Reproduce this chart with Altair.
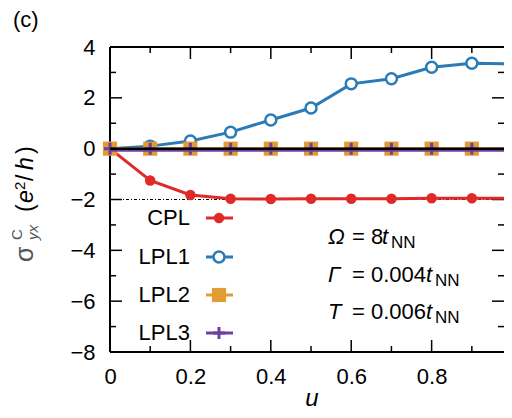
import altair as alt
import pandas as pd

FONT = "Liberation Sans"

u = [0.0, 0.1, 0.2, 0.3, 0.4, 0.5, 0.6, 0.7, 0.8, 0.9, 1.0]
cpl = [0.0, -1.25, -1.82, -1.97, -1.98, -1.97, -1.97, -1.97, -1.95, -1.95, -1.95]
lpl1 = [0.0, 0.1, 0.3, 0.65, 1.13, 1.6, 2.55, 2.75, 3.2, 3.36, 3.34]
lpl2 = [0.0, 0.0, 0.0, 0.0, 0.0, 0.0, 0.0, 0.0, 0.0, 0.0, 0.0]
lpl3 = [0.0, 0.0, 0.0, 0.0, 0.0, 0.0, 0.0, 0.0, 0.0, 0.0, 0.0]

names = ["CPL", "LPL1", "LPL2", "LPL3"]
colors = ["#e02a2a", "#2a7bb6", "#e39b33", "#6e3f9e"]

x_major = [0.0, 0.2, 0.4, 0.6, 0.8]
x_minor = [0.1, 0.3, 0.5, 0.7, 0.9]
y_major = [-8, -6, -4, -2, 0, 2, 4]
y_minor = [-7, -5, -3, -1, 1, 3]

W, H = 394, 305
xs = alt.Scale(domain=[0, 0.98], nice=False, zero=False)
ys = alt.Scale(domain=[-8, 4], nice=False, zero=False)

XAX = alt.Axis(values=x_major, format=".1~f", ticks=False, domain=False, grid=False,
               labelFontSize=22, labelFont=FONT, labelColor="black", labelPadding=14,
               labelFlush=False, title=None)
YAX = alt.Axis(values=y_major, format="d", ticks=False, domain=False, grid=False,
               labelFontSize=22, labelFont=FONT, labelColor="black", labelPadding=15,
               labelFlush=False, title=None)

one = pd.DataFrame({"a": [0]})
PLUS = "M-1,0L1,0M0,-1L0,1"


def X():
    return alt.X("u:Q", scale=xs, axis=XAX)


def Y():
    return alt.Y("v:Q", scale=ys, axis=YAX)


def series_df(vals):
    return pd.DataFrame({"u": u, "v": vals})


layers = []

# base layer carrying both axes
layers.append(alt.Chart(series_df(lpl2)).mark_point(opacity=0).encode(x=X(), y=Y()))

# frame (left, top, bottom)
layers.append(alt.Chart(one).mark_rule(color="black", strokeWidth=2).encode(
    x=alt.value(0), y=alt.value(0), y2=alt.value(H)))
layers.append(alt.Chart(one).mark_rule(color="black", strokeWidth=2).encode(
    x=alt.value(0), x2=alt.value(W), y=alt.value(0)))
layers.append(alt.Chart(one).mark_rule(color="black", strokeWidth=2).encode(
    x=alt.value(0), x2=alt.value(W), y=alt.value(H)))

# ticks
xmaj = pd.DataFrame({"u": x_major})
xmin = pd.DataFrame({"u": x_minor})
ymaj = pd.DataFrame({"v": y_major})
ymin = pd.DataFrame({"v": y_minor})
TK = dict(color="black", strokeWidth=1.5)
layers.append(alt.Chart(xmaj).mark_rule(**TK).encode(x=X(), y=alt.value(H), y2=alt.value(H - 12)))
layers.append(alt.Chart(xmin).mark_rule(**TK).encode(x=X(), y=alt.value(H), y2=alt.value(H - 6)))
layers.append(alt.Chart(xmaj).mark_rule(**TK).encode(x=X(), y=alt.value(0), y2=alt.value(12)))
layers.append(alt.Chart(xmin).mark_rule(**TK).encode(x=X(), y=alt.value(0), y2=alt.value(6)))
layers.append(alt.Chart(ymaj).mark_rule(**TK).encode(y=Y(), x=alt.value(0), x2=alt.value(12)))
layers.append(alt.Chart(ymin).mark_rule(**TK).encode(y=Y(), x=alt.value(0), x2=alt.value(6)))
layers.append(alt.Chart(ymaj).mark_rule(**TK).encode(y=Y(), x=alt.value(W), x2=alt.value(W - 12)))
layers.append(alt.Chart(ymin).mark_rule(**TK).encode(y=Y(), x=alt.value(W), x2=alt.value(W - 6)))

# dashed reference line at -2
layers.append(alt.Chart(pd.DataFrame({"v": [-2]})).mark_rule(
    color="black", strokeWidth=1, strokeDash=[3, 2, 1, 2]).encode(
    y=Y(), x=alt.value(0), x2=alt.value(W)))

# series
cp = series_df(cpl)
layers.append(alt.Chart(cp).mark_line(color=colors[0], strokeWidth=3).encode(x=X(), y=Y()))
layers.append(alt.Chart(cp).mark_point(shape="circle", filled=True, color=colors[0], size=110,
                                       opacity=1).encode(x=X(), y=Y()))
l1 = series_df(lpl1)
layers.append(alt.Chart(l1).mark_line(color=colors[1], strokeWidth=3).encode(x=X(), y=Y()))
layers.append(alt.Chart(l1).mark_point(shape="circle", filled=True, fill="white", stroke=colors[1],
                                       strokeWidth=2.5, size=120, opacity=1).encode(x=X(), y=Y()))
l2 = series_df(lpl2)
layers.append(alt.Chart(l2).mark_line(color=colors[2], strokeWidth=3).encode(x=X(), y=Y()))
layers.append(alt.Chart(l2).mark_point(shape="square", filled=True, color=colors[2], size=200,
                                       opacity=1).encode(x=X(), y=Y()))
l3 = series_df(lpl3)
layers.append(alt.Chart(l3).mark_line(color=colors[3], strokeWidth=3, yOffset=1.5).encode(x=X(), y=Y()))
layers.append(alt.Chart(l3).mark_point(shape=PLUS, filled=False, stroke=colors[3], strokeWidth=3,
                                       size=144, opacity=1).encode(x=X(), y=Y()))

# zero line
layers.append(alt.Chart(pd.DataFrame({"v": [0]})).mark_rule(color="black", strokeWidth=2.5).encode(
    y=Y(), x=alt.value(0), x2=alt.value(W)))

# legend
leg_y = [171, 210, 248, 286]
for i, name in enumerate(names):
    yy = leg_y[i]
    layers.append(alt.Chart(one).mark_text(text=name, font=FONT, fontSize=22, align="right",
                                           baseline="middle", color="black").encode(
        x=alt.value(80), y=alt.value(yy)))
    layers.append(alt.Chart(one).mark_rule(color=colors[i], strokeWidth=3).encode(
        x=alt.value(96), x2=alt.value(123), y=alt.value(yy)))
    if i == 0:
        mk = alt.Chart(one).mark_point(shape="circle", filled=True, color=colors[0], size=110, opacity=1)
    elif i == 1:
        mk = alt.Chart(one).mark_point(shape="circle", filled=True, fill="white", stroke=colors[1],
                                       strokeWidth=2.5, size=120, opacity=1)
    elif i == 2:
        mk = alt.Chart(one).mark_point(shape="square", filled=True, color=colors[2], size=200, opacity=1)
    else:
        mk = alt.Chart(one).mark_point(shape=PLUS, filled=False, stroke=colors[3], strokeWidth=3,
                                       size=144, opacity=1)
    layers.append(mk.encode(x=alt.value(109), y=alt.value(yy)))


def txt(text, x, y, size=22, style="normal", color="black", angle=0, align="left", baseline="middle"):
    return alt.Chart(one).mark_text(text=text, font=FONT, fontSize=size, fontStyle=style, color=color,
                                    angle=angle, align=align, baseline=baseline).encode(
        x=alt.value(x), y=alt.value(y))


# annotation
ann = [("Ω", "= 8", 190, 272, 281), ("Γ", "= 0.004", 228, 316, 325), ("T", "= 0.006", 265, 316, 325)]
for sym, rest, yy, tx, nx in ann:
    layers.append(txt(sym, 218, yy, style="italic"))
    layers.append(txt(rest, 242, yy))
    layers.append(txt("t", tx, yy, style="italic"))
    layers.append(txt("NN", nx, yy + 6, size=17))

# panel label
layers.append(txt("(c)", -97, -27, size=22))

# x-axis title
layers.append(txt("u", 202, H + 47, size=24, style="italic", align="center"))

# y-axis title (rotated)
GR = "#555555"
layers.append(txt("σ", -77, 215, size=25, color=GR, angle=270, baseline="alphabetic"))
layers.append(txt("C", -88, 193, size=15, color=GR, angle=270, baseline="alphabetic"))
layers.append(txt("yx", -72, 193, size=15, style="italic", color=GR, angle=270, baseline="alphabetic"))
layers.append(txt("(", -77, 165, size=23, angle=270, baseline="alphabetic"))
layers.append(txt("e", -77, 156, size=23, style="italic", angle=270, baseline="alphabetic"))
layers.append(txt("2", -85, 143, size=15, angle=270, baseline="alphabetic"))
layers.append(txt("/", -77, 134, size=23, angle=270, baseline="alphabetic"))
layers.append(txt("h", -77, 123, size=23, style="italic", angle=270, baseline="alphabetic"))
layers.append(txt(")", -77, 107, size=23, angle=270, baseline="alphabetic"))

chart = alt.layer(*layers).properties(
    width=W, height=H,
    autosize=alt.AutoSizeParams(type="none"),
    padding={"left": 102, "top": 39, "right": 0, "bottom": 58},
).configure_view(stroke=None).configure(background="white")

chart.save("out.html", embed_options={"renderer": "svg", "actions": False})
